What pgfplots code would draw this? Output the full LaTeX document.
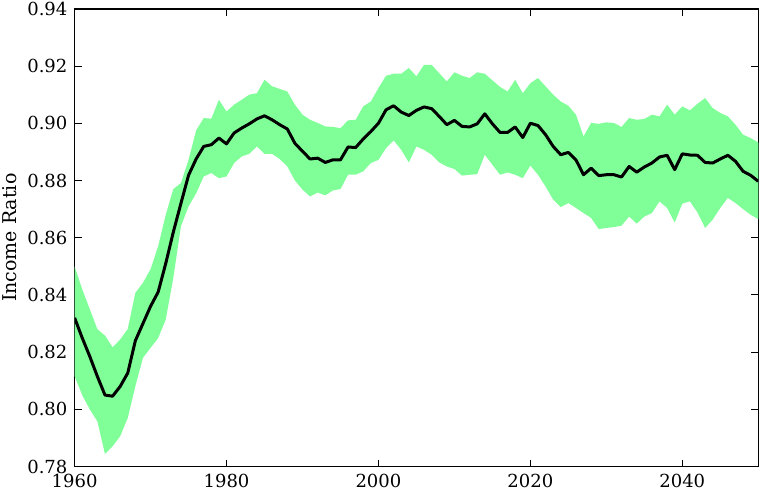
\documentclass[border={3pt 2pt 4pt 0pt}]{standalone}
\usepackage{fontspec}
\setmainfont{DejaVu Serif}
\usepackage{pgfplots}
\usepackage{pgfplotstable}
\pgfplotsset{compat=1.18}
\usepgfplotslibrary{fillbetween}
\definecolor{bandgreen}{RGB}{128,255,153}

\pgfplotstableread{
year mean lo hi
1960 0.8320 0.8116 0.8500
1961 0.8250 0.8050 0.8420
1962 0.8185 0.8000 0.8350
1963 0.8115 0.7958 0.8280
1964 0.8050 0.7844 0.8258
1965 0.8046 0.7871 0.8217
1966 0.8080 0.7906 0.8244
1967 0.8127 0.7970 0.8281
1968 0.8240 0.8081 0.8407
1969 0.8300 0.8180 0.8442
1970 0.8360 0.8215 0.8490
1971 0.8410 0.8249 0.8570
1972 0.8510 0.8314 0.8680
1973 0.8620 0.8460 0.8770
1974 0.8720 0.8640 0.8791
1975 0.8818 0.8709 0.8872
1976 0.8875 0.8755 0.8975
1977 0.8919 0.8814 0.9018
1978 0.8925 0.8826 0.9016
1979 0.8948 0.8808 0.9082
1980 0.8928 0.8814 0.9041
1981 0.8966 0.8861 0.9065
1982 0.8983 0.8884 0.9082
1983 0.8998 0.8893 0.9100
1984 0.9015 0.8919 0.9105
1985 0.9026 0.8893 0.9152
1986 0.9012 0.8893 0.9129
1987 0.8995 0.8875 0.9120
1988 0.8980 0.8849 0.9111
1989 0.8930 0.8800 0.9065
1990 0.8902 0.8768 0.9030
1991 0.8875 0.8744 0.9012
1992 0.8878 0.8758 0.9001
1993 0.8863 0.8748 0.8989
1994 0.8872 0.8765 0.8987
1995 0.8872 0.8770 0.8983
1996 0.8917 0.8820 0.9010
1997 0.8915 0.8820 0.9012
1998 0.8945 0.8832 0.9059
1999 0.8971 0.8861 0.9076
2000 0.9000 0.8872 0.9123
2001 0.9047 0.8913 0.9166
2002 0.9061 0.8940 0.9173
2003 0.9039 0.8907 0.9173
2004 0.9027 0.8863 0.9193
2005 0.9045 0.8919 0.9164
2006 0.9057 0.8907 0.9204
2007 0.9051 0.8890 0.9204
2008 0.9024 0.8863 0.9175
2009 0.8995 0.8849 0.9146
2010 0.9010 0.8840 0.9178
2011 0.8989 0.8817 0.9166
2012 0.8987 0.8820 0.9158
2013 0.8998 0.8822 0.9178
2014 0.9033 0.8890 0.9173
2015 0.8998 0.8855 0.9150
2016 0.8968 0.8820 0.9127
2017 0.8968 0.8828 0.9111
2018 0.8987 0.8820 0.9152
2019 0.8950 0.8808 0.9105
2020 0.9000 0.8852 0.9140
2021 0.8992 0.8820 0.9158
2022 0.8960 0.8779 0.9129
2023 0.8919 0.8733 0.9100
2024 0.8890 0.8707 0.9076
2025 0.8898 0.8721 0.9061
2026 0.8872 0.8704 0.9030
2027 0.8820 0.8686 0.8954
2028 0.8843 0.8669 0.9001
2029 0.8817 0.8630 0.8998
2030 0.8820 0.8634 0.9003
2031 0.8820 0.8637 0.9001
2032 0.8812 0.8642 0.8987
2033 0.8849 0.8674 0.9018
2034 0.8829 0.8649 0.9012
2035 0.8847 0.8674 0.9015
2036 0.8861 0.8686 0.9030
2037 0.8882 0.8727 0.9024
2038 0.8888 0.8704 0.9065
2039 0.8838 0.8653 0.9030
2040 0.8893 0.8719 0.9059
2041 0.8889 0.8727 0.9045
2042 0.8888 0.8688 0.9068
2043 0.8863 0.8634 0.9088
2044 0.8861 0.8663 0.9053
2045 0.8875 0.8704 0.9036
2046 0.8888 0.8739 0.9024
2047 0.8867 0.8721 0.8995
2048 0.8832 0.8700 0.8960
2049 0.8818 0.8680 0.8948
2050 0.8797 0.8665 0.8933
}\incometable

\begin{document}
\begin{tikzpicture}
\begin{axis}[
  scale only axis, width=684pt, height=458pt,
  xmin=1960, xmax=2050, ymin=0.78, ymax=0.94,
  xtick={1960,1980,2000,2020,2040},
  ytick={0.78,0.80,...,0.94},
  tick align=inside, tick pos=both, major tick length=7pt,
  every tick/.style={black, line width=0.9pt},
  axis line style={line width=1.5pt},
  ticklabel style={font=\fontsize{18}{21}\selectfont, inner sep=2pt},
  /pgf/number format/assume math mode=true,
  xticklabel style={/pgf/number format/1000 sep={}, yshift=-5pt},
  yticklabel style={/pgf/number format/fixed, /pgf/number format/fixed zerofill,
    /pgf/number format/precision=2, xshift=-5pt},
  ylabel={\fontsize{19}{22}\selectfont Income Ratio},
  ylabel style={inner sep=0pt, at={(axis description cs:-0.0943,0.5)}, anchor=center},
  clip=true,
]
\addplot[draw=none, name path=hi] table[x=year, y=hi] {\incometable};
\addplot[draw=none, name path=lo] table[x=year, y=lo] {\incometable};
\addplot[bandgreen, draw=none] fill between[of=hi and lo];
\addplot[black, line width=3pt, line join=round] table[x=year, y=mean] {\incometable};
\end{axis}
\end{tikzpicture}
\end{document}
